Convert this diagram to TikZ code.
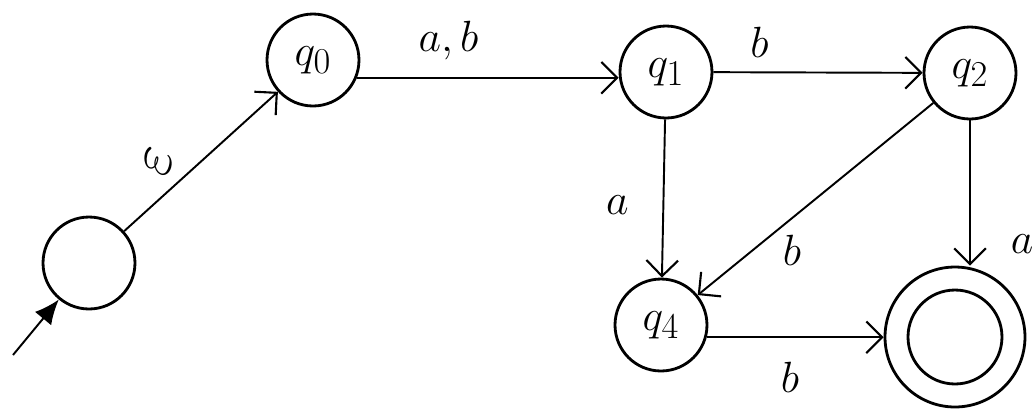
\documentclass[tikz,border=0pt]{standalone}
\usepackage{xcolor}
\usepackage{tikz}
\usetikzlibrary{arrows.meta, positioning}
\tikzset{
    state/.style={draw, circle, line width=1.6pt, minimum size=1.84cm, inner sep=0pt, font=\Huge},
    accept/.style={state, minimum size=2.8cm},
    trans/.style={-{Straight Barb[length=9pt, width=18pt, line width=1.2pt]}, line width=1.1pt},
    lbl/.style={font=\Huge}
}

\begin{document}
\begin{tikzpicture}[x=0.02cm, y=-0.02cm]
    \useasboundingbox (0,0) rectangle (1036,417);
    % states
    \node[state] (s) at (89,263) {};
    \node[state] (q0) at (313,60) {$q_0$};
    \node[state] (q1) at (666,72) {$q_1$};
    \node[state] (q2) at (970,73) {$q_2$};
    \node[state] (q4) at (661,325) {$q_4$};
    \node[accept] (f) at (955,337) {};
    \draw[line width=1.6pt] (f.center) circle[radius=0.94cm];
    \coordinate (in) at (13,355);

    % transitions
    \draw[-{Latex[length=14pt, width=12pt]}, line width=1.1pt] (in) -- (s);
    \draw[trans] (s) -- node[lbl, midway, xshift=-0.85cm, rotate=75, scale=1.4] {$\varepsilon$} (q0);
    \draw[trans] (q0.-22) -- node[lbl, pos=0.35, yshift=0.75cm] {$a,b$} (q0.-22 -| q1.west);
    \draw[trans] (q1) -- node[lbl, pos=0.22, yshift=0.6cm] {$b$} (q2);
    \draw[trans] (q1) -- node[lbl, pos=0.54, xshift=-0.92cm] {$a$} (q4);
    \draw[trans] (q2) -- node[lbl, pos=0.6, yshift=-0.65cm] {$b$} (q4);
    \draw[trans] (q2) -- node[lbl, pos=0.85, xshift=1.04cm] {$a$} (q2 |- f.north);
    \draw[trans] (q4.-15) -- node[lbl, pos=0.47, yshift=-0.8cm] {$b$} (q4.-15 -| f.west);
\end{tikzpicture}
\end{document}
